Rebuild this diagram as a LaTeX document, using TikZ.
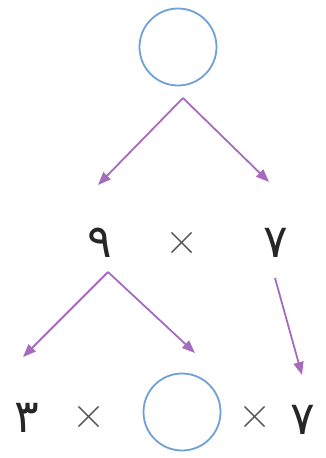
\documentclass[tikz,border=0pt]{standalone}
\usepackage{fontspec}
\newfontfamily\arabicfont[Script=Arabic]{DejaVu Sans}
\TeXXeTstate=1
\usetikzlibrary{arrows.meta}
\definecolor{blankblue}{HTML}{6FA0D8}
\definecolor{splitpurple}{HTML}{A46BBF}
\definecolor{signgray}{HTML}{555555}
\tikzset{
  blank/.style={draw=blankblue, line width=1.8pt, circle, minimum size=77pt, inner sep=0pt},
  digit/.style={font=\arabicfont\fontsize{46}{50}\selectfont, text=black!85, inner sep=0pt},
  times/.style={font=\fontsize{46}{50}\selectfont, text=signgray, inner sep=0pt},
  split/.style={-{Triangle[length=13pt,width=10pt]}, line width=1.8pt, draw=splitpurple, fill=splitpurple},
}
\begin{document}
\begin{tikzpicture}[x=1pt,y=-1pt]
\useasboundingbox (0,0) rectangle (326,458);
% top blank
\node[blank] (top) at (178,47) {};
\coordinate (topsplit) at (183,98);
\coordinate (topleft) at (98,185);
\coordinate (topright) at (269,182);
\draw[split] (topsplit) -- (topleft);
\draw[split] (topsplit) -- (topright);
% middle row
\node[digit] (nine) at (100,243) {\beginR ٩\endR};
\node[times] (midtimes) at (182,243) {×};
\node[digit] (seven) at (276,243) {\beginR ٧\endR};
\coordinate (ninesplit) at (108,272);
\coordinate (nineleft) at (23,357);
\coordinate (nineright) at (195,353);
\coordinate (sevenstart) at (275,278);
\coordinate (sevendown) at (302,375);
\draw[split] (ninesplit) -- (nineleft);
\draw[split] (ninesplit) -- (nineright);
\draw[split] (sevenstart) -- (sevendown);
% bottom row
\node[digit] (three) at (27,418) {\beginR ٣\endR};
\node[times] (lefttimes) at (89,417) {×};
\node[blank] (bottom) at (182,412) {};
\node[times] (righttimes) at (255,417) {×};
\node[digit] (sevenb) at (303,420) {\beginR ٧\endR};
\end{tikzpicture}
\end{document}
